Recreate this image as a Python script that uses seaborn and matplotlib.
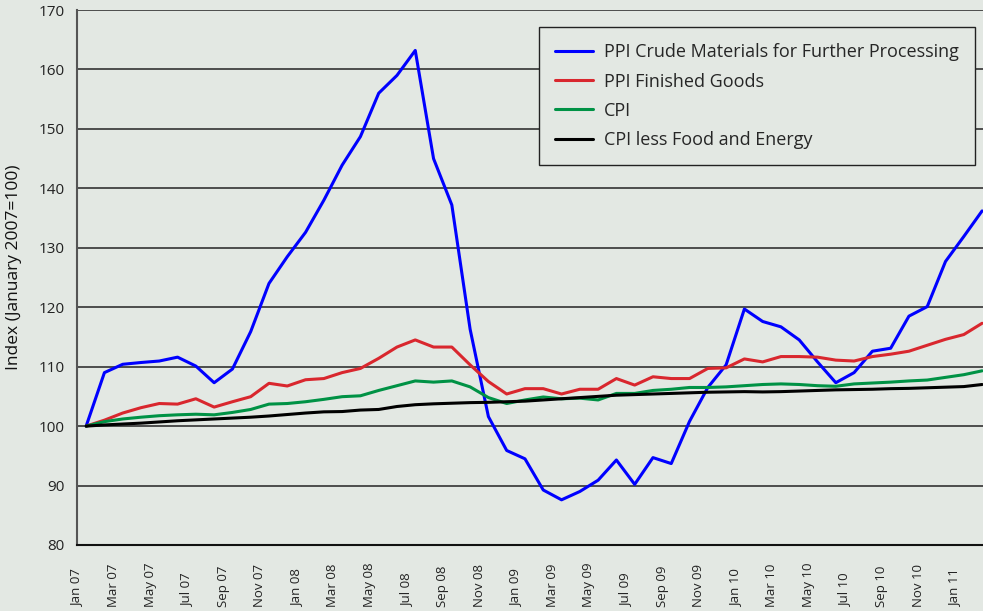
import numpy as np
import pandas as pd
import matplotlib
matplotlib.use("Agg")
import matplotlib.pyplot as plt
import seaborn as sns

# monthly index values, Jan 07 .. Feb 11 (January 2007 = 100)
months = pd.date_range("2007-01-01", "2011-02-01", freq="MS")

ppi_crude = [100.0, 109.0, 110.4, 110.7, 110.95, 111.6, 110.1, 107.3, 109.6, 115.9,
             124.0, 128.5, 132.6, 138.0, 143.9, 148.7, 156.0, 159.0, 163.2, 145.0,
             137.2, 116.3, 101.6, 95.9, 94.5, 89.25, 87.6, 89.0, 90.9, 94.3,
             90.2, 94.7, 93.7, 100.8, 106.5, 110.3, 119.7, 117.6, 116.7, 114.5,
             110.8, 107.3, 109.0, 112.6, 113.1, 118.5, 120.1, 127.7, 131.9, 136.2]
ppi_finished = [100.0, 101.0, 102.2, 103.1, 103.8, 103.7, 104.6, 103.2, 104.1, 104.95,
                107.2, 106.75, 107.8, 108.0, 109.0, 109.7, 111.4, 113.3, 114.5, 113.3,
                113.3, 110.3, 107.5, 105.4, 106.3, 106.3, 105.4, 106.2, 106.2, 108.0,
                106.9, 108.3, 108.0, 108.0, 109.7, 109.8, 111.3, 110.8, 111.7, 111.7,
                111.6, 111.1, 110.95, 111.7, 112.1, 112.6, 113.6, 114.6, 115.4, 117.3]
cpi = [100.0, 100.75, 101.2, 101.5, 101.75, 101.9, 102.0, 101.9, 102.3, 102.8,
       103.7, 103.8, 104.1, 104.5, 104.95, 105.1, 106.0, 106.8, 107.6, 107.4,
       107.6, 106.6, 104.8, 103.8, 104.4, 104.9, 104.6, 104.7, 104.4, 105.5,
       105.5, 106.0, 106.2, 106.5, 106.5, 106.6, 106.8, 107.0, 107.1, 107.0,
       106.8, 106.7, 107.1, 107.25, 107.4, 107.6, 107.75, 108.2, 108.65, 109.3]
cpi_core = [100.0, 100.2, 100.35, 100.5, 100.7, 100.9, 101.05, 101.2, 101.35, 101.5,
            101.7, 101.95, 102.2, 102.4, 102.45, 102.7, 102.8, 103.3, 103.6, 103.75,
            103.85, 103.95, 104.0, 104.1, 104.2, 104.4, 104.6, 104.8, 105.0, 105.2,
            105.3, 105.4, 105.5, 105.6, 105.7, 105.75, 105.8, 105.75, 105.8, 105.9,
            106.0, 106.1, 106.15, 106.2, 106.3, 106.35, 106.45, 106.55, 106.65, 107.0]

series_names = ["PPI Crude Materials for Further Processing", "PPI Finished Goods",
                "CPI", "CPI less Food and Energy"]
series_colours = ["#0000ff", "#d9272e", "#009245", "#000000"]

# long format for seaborn, points sit in the middle of each month slot
frames = []
for name, vals in zip(series_names, [ppi_crude, ppi_finished, cpi, cpi_core]):
    frames.append(pd.DataFrame({"pos": np.arange(len(months)) + 0.5,
                                "value": vals, "series": name}))
df = pd.concat(frames, ignore_index=True)

bg = "#e3e8e3"
sns.set_style("white", {"axes.facecolor": bg, "figure.facecolor": bg})
plt.rcParams["font.family"] = ["Open Sans", "DejaVu Sans"]

fig = plt.figure(figsize=(9.83, 6.11), dpi=100)
ax = fig.add_axes([77 / 983, 66 / 611, 906 / 983, 535 / 611])

sns.lineplot(data=df, x="pos", y="value", hue="series", hue_order=series_names,
             palette=series_colours, linewidth=2.2, ax=ax, zorder=3)

ax.set_xlim(0, 49.55)
ax.set_ylim(80, 170)
ax.set_yticks(range(80, 171, 10))
ax.yaxis.grid(True, color="#333333", linewidth=1.2)
ax.set_axisbelow(True)

tick_pos = np.arange(0, len(months), 2)
ax.set_xticks(tick_pos)
ax.set_xticklabels([months[i].strftime("%b %y") for i in tick_pos], rotation=90,
                   va="bottom", fontsize=9.5, color="#222222")
ax.tick_params(axis="x", length=5, width=1.2, color="#444444", pad=39.5)
ax.tick_params(axis="y", length=2, width=1.2, color="#444444", pad=7,
               labelsize=11, labelcolor="#222222")

for side in ["top", "right"]:
    ax.spines[side].set_visible(False)
ax.spines["left"].set_color("#555555")
ax.spines["left"].set_linewidth(1.5)
ax.spines["bottom"].set_color("#111111")
ax.spines["bottom"].set_linewidth(1.5)

ax.set_xlabel("")
ax.set_ylabel("Index (January 2007=100)", fontsize=12.5, color="#111111")
ax.yaxis.set_label_coords(-0.061, 0.52)

leg = ax.legend(loc="upper right", bbox_to_anchor=(0.991, 0.968), fontsize=13,
                frameon=True, fancybox=False, framealpha=1, facecolor=bg,
                edgecolor="#222222", handlelength=2.1, handletextpad=0.6,
                labelspacing=0.62, borderpad=0.9, borderaxespad=0)
leg.get_frame().set_linewidth(1.0)
for line in leg.get_lines():
    line.set_linewidth(2.2)

fig.savefig("out.png", dpi=100, facecolor=bg)
